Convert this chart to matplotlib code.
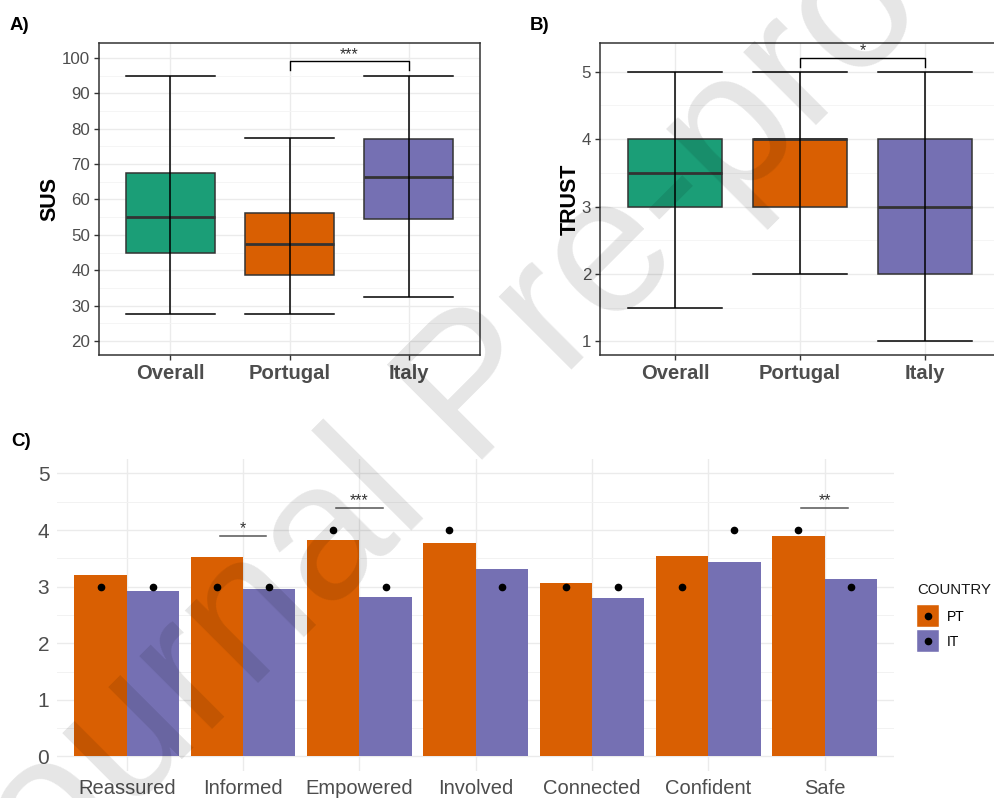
import matplotlib
matplotlib.use("Agg")
import matplotlib.pyplot as plt
import numpy as np
from matplotlib.patches import Patch
from matplotlib.lines import Line2D

plt.rcParams['font.family'] = ['Liberation Sans', 'DejaVu Sans']

# ---------------- data ----------------
groups = ["Overall", "Portugal", "Italy"]
group_colors = ["#1B9E77", "#D95F02", "#7570B3"]

sus_whislo = [27.5, 27.5, 32.5]
sus_q1 = [45.0, 38.75, 54.4]
sus_med = [55.0, 47.5, 66.25]
sus_q3 = [67.5, 56.25, 77.0]
sus_whishi = [95.0, 77.5, 95.0]

trust_whislo = [1.5, 2.0, 1.0]
trust_q1 = [3.0, 3.0, 2.0]
trust_med = [3.5, 4.0, 3.0]
trust_q3 = [4.0, 4.0, 4.0]
trust_whishi = [5.0, 5.0, 5.0]

items = ["Reassured", "Informed", "Empowered", "Involved", "Connected", "Confident", "Safe"]
pt_mean = [3.20, 3.52, 3.83, 3.77, 3.07, 3.55, 3.90]
it_mean = [2.93, 2.95, 2.81, 3.31, 2.80, 3.44, 3.14]
pt_median = [3, 3, 4, 4, 3, 3, 4]
it_median = [3, 3, 3, 3, 3, 4, 3]
countries = ["PT", "IT"]
country_colors = ["#D95F02", "#7570B3"]

sig_items = ["Informed", "Empowered", "Safe"]
sig_y = [3.90, 4.39, 4.39]
sig_labels = ["*", "***", "**"]

# ---------------- figure ----------------
W, H = 994, 798
fig = plt.figure(figsize=(W / 100, H / 100), dpi=100)

def px_axes(x0, y0, x1, y1):
    return fig.add_axes([x0 / W, 1 - y1 / H, (x1 - x0) / W, (y1 - y0) / H])

axA = px_axes(99, 43, 480, 355)
axB = px_axes(600, 43, 1000, 355)
axC = px_axes(57, 459.3, 894.3, 770.6)

grey30 = "#4D4D4D"
grey20 = "#333333"


def box_panel(ax, lo, q1, med, q3, hi, ylim, major, minor, ylabel, label_x,
              bracket, stars):
    ax.set_facecolor("white")
    pos = np.arange(1, len(groups) + 1)
    stats = []
    for i in range(len(groups)):
        stats.append(dict(whislo=lo[i], q1=q1[i], med=med[i], q3=q3[i],
                          whishi=hi[i], fliers=[], label=groups[i]))
    bp = ax.bxp(stats, positions=pos, widths=0.75, capwidths=0.75,
                patch_artist=True, showfliers=False,
                boxprops=dict(edgecolor=grey20, linewidth=1.1),
                medianprops=dict(color=grey20, linewidth=2.0),
                whiskerprops=dict(linestyle="none"),
                capprops=dict(color="black", linewidth=1.1),
                zorder=3)
    for patch, c in zip(bp["boxes"], group_colors):
        patch.set_facecolor(c)
    # full-range error bar drawn over the box
    ax.vlines(pos, lo, hi, color="black", linewidth=1.1, zorder=5)

    ax.set_xlim(0.4, 3.6)
    ax.set_ylim(*ylim)
    ax.set_yticks(major)
    ax.set_yticks(minor, minor=True)
    ax.set_xticks(pos)
    ax.set_xticklabels(groups, fontsize=14.6, fontweight="bold", color=grey30)
    ax.tick_params(axis="y", which="major", labelsize=12.2, labelcolor=grey30,
                   color=grey20, length=3.8, width=1, pad=2.5)
    ax.tick_params(axis="y", which="minor", length=0)
    ax.tick_params(axis="x", which="major", color=grey20, length=3.8, width=1,
                   pad=2.5)
    ax.grid(True, which="major", color="#EBEBEB", linewidth=1.0, zorder=0)
    ax.grid(True, which="minor", axis="y", color="#F4F4F4", linewidth=0.6,
            zorder=0)
    ax.set_axisbelow(True)
    for s in ax.spines.values():
        s.set_color(grey20)
        s.set_linewidth(1.1)
    ax.set_ylabel(ylabel, fontsize=15.5, fontweight="bold", color="black")
    ax.yaxis.set_label_coords(label_x, 0.5)

    (x1, x2, ytop, ybot, ystar) = bracket
    ax.plot([x1, x1, x2, x2], [ybot, ytop, ytop, ybot], color="black",
            linewidth=1.0, zorder=6, clip_on=False)
    ax.text((x1 + x2) / 2, ystar, stars, ha="center", va="baseline",
            fontsize=11.5, color=grey20, clip_on=False)


box_panel(axA, sus_whislo, sus_q1, sus_med, sus_q3, sus_whishi,
          (16.04, 104.24), np.arange(20, 101, 10), np.arange(25, 100, 10),
          "SUS", -0.10, (2, 3, 99.1, 96.6, 99.7), "***")
box_panel(axB, trust_whislo, trust_q1, trust_med, trust_q3, trust_whishi,
          (0.797, 5.426), np.arange(1, 6, 1), np.arange(1.5, 5.0, 1.0),
          "TRUST", -0.048, (2, 3, 5.199, 5.074, 5.245), "*")

# ---------------- panel C ----------------
x = np.arange(1, len(items) + 1)
bw = 0.45
axC.bar(x - bw / 2, pt_mean, width=bw, color=country_colors[0], zorder=3)
axC.bar(x + bw / 2, it_mean, width=bw, color=country_colors[1], zorder=3)
axC.plot(x - bw / 2, pt_median, "o", color="black", ms=4.5, zorder=4)
axC.plot(x + bw / 2, it_median, "o", color="black", ms=4.5, zorder=4)

for name, yv, lab in zip(sig_items, sig_y, sig_labels):
    xi = items.index(name) + 1
    axC.plot([xi - 0.2, xi + 0.2], [yv, yv], color="#555555", linewidth=1.1,
             zorder=5)
    axC.text(xi, yv + 0.045, lab, ha="center", va="baseline", fontsize=11.5,
             color=grey20)

axC.set_xlim(0.4, 7.6)
axC.set_ylim(-0.25, 5.25)
axC.set_xticks(x)
axC.set_xticklabels(items, fontsize=14.5, color=grey30)
axC.set_yticks(np.arange(0, 6, 1))
axC.set_yticks(np.arange(0.5, 5.0, 1.0), minor=True)
axC.tick_params(axis="y", which="major", labelsize=15, labelcolor=grey30,
                length=0, pad=5.5)
axC.tick_params(axis="y", which="minor", length=0)
axC.tick_params(axis="x", length=0, pad=6)
axC.grid(True, which="major", color="#EBEBEB", linewidth=1.0, zorder=0)
axC.grid(True, which="minor", axis="y", color="#F2F2F2", linewidth=0.7,
         zorder=0)
axC.set_axisbelow(True)
for s in axC.spines.values():
    s.set_visible(False)

handles = [Patch(facecolor=c, edgecolor="#ffffff", linewidth=0.3)
           for c in country_colors]
leg = fig.legend(handles, countries,
                 loc="upper left", bbox_to_anchor=(917 / W, 1 - 583 / H),
                 frameon=False, title="COUNTRY", fontsize=10,
                 title_fontsize=10.8, handlelength=1.6, handleheight=2.06,
                 labelspacing=0.2, borderpad=0, borderaxespad=0,
                 handletextpad=0.55, alignment="left")
leg.get_title().set_color("#1A1A1A")
leg._legend_box.sep = 6

# black dots in the legend keys (median marker)
fig.canvas.draw()
renderer = fig.canvas.get_renderer()
inv = fig.transFigure.inverted()
for h in leg.legend_handles:
    bb = h.get_window_extent(renderer)
    cx, cy = inv.transform(((bb.x0 + bb.x1) / 2, (bb.y0 + bb.y1) / 2))
    fig.add_artist(Line2D([cx], [cy], marker="o", color="black", ls="none",
                          ms=4.5, transform=fig.transFigure, zorder=10))

# panel labels
fig.text(10 / W, 1 - 30 / H, "A)", fontsize=13.5, fontweight="bold",
         va="baseline", ha="left")
fig.text(530 / W, 1 - 30 / H, "B)", fontsize=13.5, fontweight="bold",
         va="baseline", ha="left")
fig.text(11 / W, 1 - 446 / H, "C)", fontsize=13.5, fontweight="bold",
         va="baseline", ha="left")

# watermark
fig.text(-18 / W, 1 - 960 / H, "Journal Pre-proof", rotation=45,
         rotation_mode="anchor", ha="left", va="baseline", fontsize=140,
         color="black", alpha=0.1, zorder=100)

fig.savefig("out.png", dpi=100, facecolor="white")
